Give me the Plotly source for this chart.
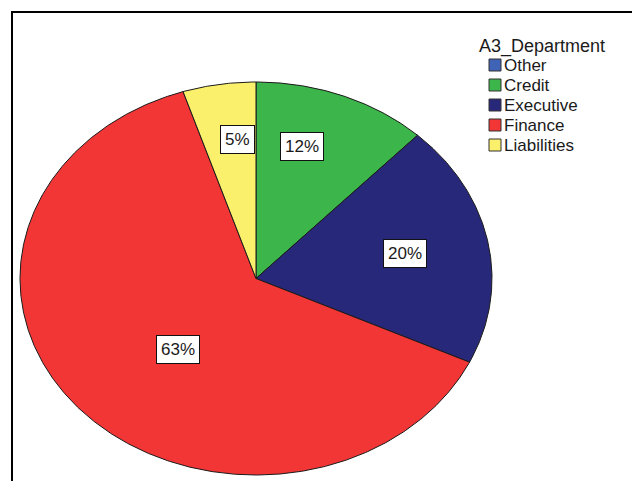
import numpy as np
import plotly.graph_objects as go

# ---- data ----
categories = ["Other", "Credit", "Executive", "Finance", "Liabilities"]
values = [0, 12, 20, 63, 5]          # percent
labels = ["", "12%", "20%", "63%", "5%"]
colors = ["#3f63b5", "#3cb54a", "#28287a", "#f23535", "#fbf06b"]
legend_title = "A3_Department"

# ---- geometry / style (pixel space) ----
W, H = 632, 481
cx, cy = 256, 278.5
rx, ry = 236, 196.5
label_r = [0.68, 0.70, 0.644, 0.49, 0.71]
label_dang = [0, -5.5, -0.8, -6.4, 2.8]   # degrees
FONT = "Liberation Sans, Arial"

fig = go.Figure()
total = float(sum(values))
start = 0.0
for cat, v, col, lab, lr, da in zip(categories, values, colors, labels, label_r, label_dang):
    frac = v / total
    if frac > 0:
        th = np.linspace(start, start + frac, max(int(frac * 720), 4)) * 2 * np.pi
        xs = np.concatenate([[cx], cx + rx * np.sin(th), [cx]])
        ys = np.concatenate([[cy], cy - ry * np.cos(th), [cy]])
        fig.add_trace(go.Scatter(x=xs, y=ys, mode="lines", fill="toself",
                                 fillcolor=col, line=dict(color="#1a1a1a", width=1),
                                 name=cat, showlegend=False, hoverinfo="name"))
        mid = (start + frac / 2) * 2 * np.pi + np.deg2rad(da)
        fig.add_annotation(x=cx + lr * rx * np.sin(mid), y=cy - lr * ry * np.cos(mid),
                           text=lab, showarrow=False,
                           font=dict(family=FONT, size=17, color="#1a1a1a"),
                           bgcolor="white", bordercolor="#111", borderwidth=1, borderpad=4)
    start += frac

# legend (manual, SPSS style)
fig.add_annotation(x=477, y=46, xanchor="left", yanchor="middle", text=legend_title,
                   showarrow=False,
                   font=dict(family=FONT, size=18, color="#1a1a1a"))
for i, (cat, col) in enumerate(zip(categories, colors)):
    yy = 65 + i * 20
    fig.add_shape(type="rect", x0=489, x1=501, y0=yy - 6, y1=yy + 6,
                  fillcolor=col, line=dict(color="#333", width=1))
    fig.add_annotation(x=502, y=yy, xanchor="left", yanchor="middle", text=cat,
                       showarrow=False,
                       font=dict(family=FONT, size=17, color="#1a1a1a"))

# frame
fig.add_shape(type="line", x0=11, x1=W, y0=12, y1=12, line=dict(color="black", width=2))
fig.add_shape(type="line", x0=12, x1=12, y0=11, y1=H, line=dict(color="black", width=2))

fig.update_layout(width=W, height=H, margin=dict(l=0, r=0, t=0, b=0),
                  paper_bgcolor="white", plot_bgcolor="white", showlegend=False,
                  xaxis=dict(range=[0, W], visible=False, fixedrange=True),
                  yaxis=dict(range=[H, 0], visible=False, fixedrange=True))
fig.write_html("out.html")
